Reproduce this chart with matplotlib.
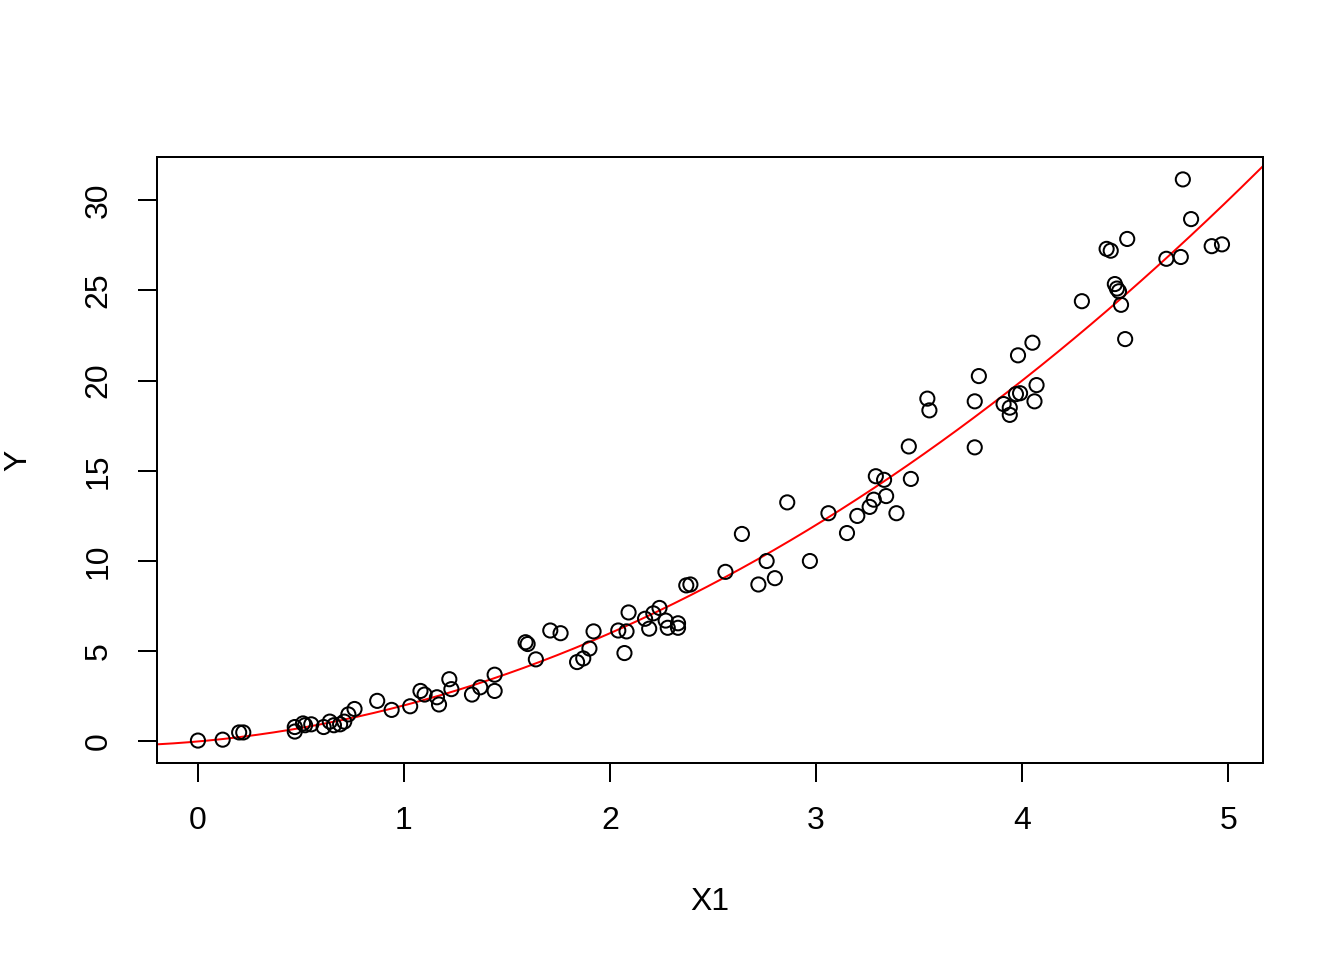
import numpy as np
import matplotlib
matplotlib.use('Agg')
import matplotlib.pyplot as plt

# points (X1, Y)
x1 = [0.00, 0.12, 0.20, 0.22, 0.47, 0.47, 0.51, 0.52, 0.55, 0.61,
      0.64, 0.66, 0.69, 0.71, 0.73, 0.76, 0.87, 0.94, 1.03, 1.08,
      1.10, 1.16, 1.17, 1.22, 1.23, 1.33, 1.37, 1.44, 1.44, 1.59,
      1.60, 1.64, 1.71, 1.76, 1.84, 1.87, 1.90, 1.92, 2.04, 2.07,
      2.08, 2.09, 2.17, 2.19, 2.21, 2.24, 2.27, 2.28, 2.33, 2.33,
      2.37, 2.39, 2.56, 2.64, 2.72, 2.76, 2.80, 2.86, 2.97, 3.06,
      3.15, 3.20, 3.26, 3.28, 3.29, 3.33, 3.34, 3.39, 3.45, 3.46,
      3.54, 3.55, 3.77, 3.77, 3.79, 3.91, 3.94, 3.94, 3.97, 3.98,
      3.99, 4.05, 4.06, 4.07, 4.29, 4.41, 4.43, 4.45, 4.46, 4.47,
      4.48, 4.50, 4.51, 4.70, 4.77, 4.78, 4.82, 4.92, 4.97]
yv = [0.05, 0.10, 0.50, 0.50, 0.80, 0.55, 1.00, 0.90, 0.95, 0.80,
      1.10, 0.90, 0.95, 1.10, 1.50, 1.80, 2.25, 1.75, 1.95, 2.80,
      2.60, 2.45, 2.05, 3.45, 2.90, 2.60, 3.00, 3.70, 2.80, 5.50,
      5.40, 4.55, 6.15, 6.00, 4.40, 4.60, 5.15, 6.10, 6.15, 4.90,
      6.10, 7.15, 6.80, 6.25, 7.10, 7.40, 6.70, 6.30, 6.55, 6.30,
      8.65, 8.70, 9.40, 11.50, 8.70, 10.00, 9.05, 13.25, 10.00, 12.65,
      11.55, 12.50, 13.00, 13.40, 14.70, 14.50, 13.60, 12.65, 16.35, 14.55,
      19.00, 18.35, 16.30, 18.85, 20.25, 18.70, 18.50, 18.10, 19.25, 21.40,
      19.30, 22.10, 18.85, 19.75, 24.40, 27.30, 27.20, 25.35, 25.10, 24.95,
      24.20, 22.30, 27.85, 26.75, 26.85, 31.15, 28.95, 27.45, 27.55]

# true curve Y = X1 + X1^2 (polyval order: x^2, x, 1)
curve_coef = [1.0, 1.0, 0.0]

x1 = np.array(x1)
yv = np.array(yv)

plt.rcParams['font.family'] = ['Liberation Sans', 'DejaVu Sans']
plt.rcParams['font.size'] = 12

fig = plt.figure(figsize=(7, 5), dpi=192)
ax = fig.add_axes([0.1168, 0.2052, 0.9397 - 0.1168, 0.8365 - 0.2052])

# R style 4% axis extension
def r_lim(v):
    r = v.max() - v.min()
    return v.min() - 0.04 * r, v.max() + 0.04 * r

xlim = r_lim(x1)
ylim = r_lim(yv)

ax.scatter(x1, yv, s=5.3**2, facecolors='none', edgecolors='black', linewidths=0.75, zorder=3)

xx = np.linspace(xlim[0], xlim[1], 200)
ax.plot(xx, np.polyval(curve_coef, xx), color='red', lw=0.75, zorder=2)

ax.set_xlim(xlim)
ax.set_ylim(ylim)
ax.set_xticks([0, 1, 2, 3, 4, 5])
ax.set_yticks([0, 5, 10, 15, 20, 25, 30])
ax.tick_params(direction='out', length=7.2, width=0.75, pad=9)
for lab in ax.get_yticklabels():
    lab.set_rotation(90)
    lab.set_va('center')
for sp in ax.spines.values():
    sp.set_linewidth(0.75)

ax.set_xlabel('X1', labelpad=19)
ax.set_ylabel('Y', labelpad=19)

fig.savefig('out.png', dpi=192)
